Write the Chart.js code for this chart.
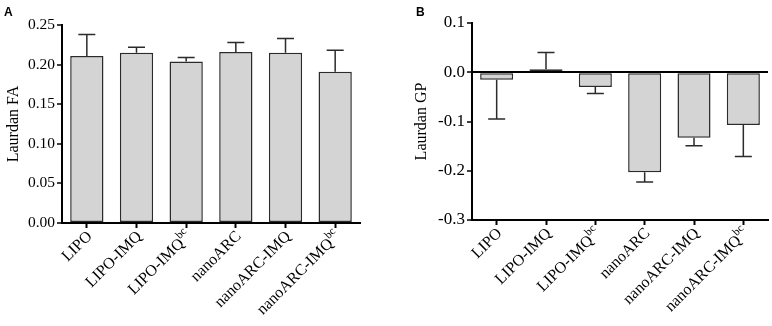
<!DOCTYPE html>
<html>
<head>
<meta charset="utf-8">
<script src="https://cdn.jsdelivr.net/npm/chart.js@4.4.1/dist/chart.umd.min.js"></script>
<style>
  body { margin: 0; background: #fff; }
  #wrap { position: relative; width: 772px; height: 326px; }
  canvas { position: absolute; top: 0; }
</style>
</head>
<body>
<div id="wrap">
  <canvas id="chartA" width="386" height="326" style="left:0"></canvas>
  <canvas id="chartB" width="386" height="326" style="left:386px"></canvas>
</div>
<script>
// categories (main text + superscript part)
const categories = ['LIPO', 'LIPO-IMQ', 'LIPO-IMQ', 'nanoARC', 'nanoARC-IMQ', 'nanoARC-IMQ'];
const superscripts = ['', '', 'bc', '', '', 'bc'];

// panel A: Laurdan FA, mean and SD
const faMean = [0.211, 0.215, 0.204, 0.216, 0.215, 0.191];
const faErr = [0.027, 0.007, 0.005, 0.012, 0.018, 0.027];

// panel B: Laurdan GP, mean and SD
const gpMean = [-0.015, 0.006, -0.030, -0.203, -0.133, -0.107];
const gpErr = [0.080, 0.034, 0.013, 0.020, 0.016, 0.064];

const serif = "'Liberation Serif', 'Times New Roman', serif";

// one-sided error bars, drawn away from zero
const errorBars = {
    id: 'errorBars',
    afterDatasetsDraw(chart, args, opts) {
        const ctx = chart.ctx;
        const y = chart.scales.y;
        const meta = chart.getDatasetMeta(0);
        ctx.save();
        ctx.strokeStyle = '#2b2b2b';
        ctx.lineWidth = 1.5;
        meta.data.forEach((bar, i) => {
            const v = opts.values[i];
            const e = opts.errors[i];
            const end = v >= 0 ? v + e : v - e;
            const y0 = y.getPixelForValue(v);
            const y1 = y.getPixelForValue(end);
            ctx.beginPath();
            ctx.moveTo(bar.x, y0);
            ctx.lineTo(bar.x, y1);
            ctx.moveTo(bar.x - 8.5, y1);
            ctx.lineTo(bar.x + 8.5, y1);
            ctx.stroke();
        });
        ctx.restore();
    }
};

// rotated category labels with superscripts, plus panel letter
const labelsAndLetter = {
    id: 'labelsAndLetter',
    afterDraw(chart, args, opts) {
        const ctx = chart.ctx;
        const x = chart.scales.x;
        const bottom = chart.chartArea.bottom;
        ctx.save();
        ctx.fillStyle = '#000';
        categories.forEach((name, i) => {
            const px = x.getPixelForTick(i);
            ctx.save();
            ctx.translate(px + 3, bottom + 11);
            ctx.rotate(-Math.PI / 4);
            ctx.textAlign = 'right';
            ctx.textBaseline = 'middle';
            let supW = 0;
            if (superscripts[i]) {
                ctx.font = '11px ' + serif;
                supW = ctx.measureText(superscripts[i]).width;
                ctx.fillText(superscripts[i], 0, -6);
            }
            ctx.font = '16px ' + serif;
            ctx.fillText(name, -supW, 0);
            ctx.restore();
        });
        ctx.font = "bold 12px 'Liberation Sans', Arial, sans-serif";
        ctx.textAlign = 'left';
        ctx.textBaseline = 'alphabetic';
        ctx.fillText(opts.letter, opts.letterX, 16);
        ctx.restore();
    }
};

function makeChart(id, cfg) {
    return new Chart(document.getElementById(id), {
        type: 'bar',
        data: {
            labels: categories,
            datasets: [{
                data: cfg.values,
                backgroundColor: '#d4d4d4',
                borderColor: '#2b2b2b',
                borderWidth: 1.5,
                borderSkipped: false,
                barPercentage: 0.67,
                categoryPercentage: 1
            }]
        },
        options: {
            responsive: false,
            animation: false,
            layout: { padding: cfg.padding },
            plugins: {
                legend: { display: false },
                tooltip: { enabled: false },
                errorBars: { values: cfg.values, errors: cfg.errors },
                labelsAndLetter: { letter: cfg.letter, letterX: cfg.letterX }
            },
            scales: {
                x: {
                    ticks: { display: false },
                    grid: {
                        offset: false,
                        drawOnChartArea: false,
                        tickLength: 5,
                        tickColor: '#000',
                        tickWidth: 2
                    },
                    border: { color: '#000', width: 2 },
                    afterFit: s => { s.height = cfg.xHeight; }
                },
                y: {
                    min: cfg.min,
                    max: cfg.max,
                    ticks: {
                        stepSize: cfg.step,
                        color: '#000',
                        padding: 2,
                        font: { family: serif, size: cfg.tickSize },
                        callback: v => Number(v).toFixed(cfg.digits)
                    },
                    grid: {
                        drawOnChartArea: cfg.zeroLine,
                        color: c => (c.tick && Math.abs(c.tick.value) < 1e-9) ? '#000' : 'rgba(0,0,0,0)',
                        lineWidth: 2,
                        tickLength: 5,
                        tickColor: '#000',
                        tickWidth: 1.5
                    },
                    border: { color: '#000', width: 2 },
                    title: {
                        display: true,
                        text: cfg.title,
                        color: '#000',
                        font: { family: serif, size: 16 },
                        padding: { top: 4, bottom: 0 }
                    },
                    afterFit: s => { s.width = cfg.yWidth; }
                }
            }
        },
        plugins: [errorBars, labelsAndLetter]
    });
}

makeChart('chartA', {
    values: faMean, errors: faErr, title: 'Laurdan FA', letter: 'A', letterX: 4,
    min: 0, max: 0.25, step: 0.05, digits: 2, tickSize: 15.5, zeroLine: false,
    padding: { top: 25, right: 26, left: 0, bottom: 0 }, yWidth: 62, xHeight: 103
});

makeChart('chartB', {
    values: gpMean, errors: gpErr, title: 'Laurdan GP', letter: 'B', letterX: 30,
    min: -0.3, max: 0.1, step: 0.1, digits: 1, tickSize: 17, zeroLine: true,
    padding: { top: 23, right: 4, left: 22, bottom: 0 }, yWidth: 64, xHeight: 106
});
</script>
</body>
</html>
